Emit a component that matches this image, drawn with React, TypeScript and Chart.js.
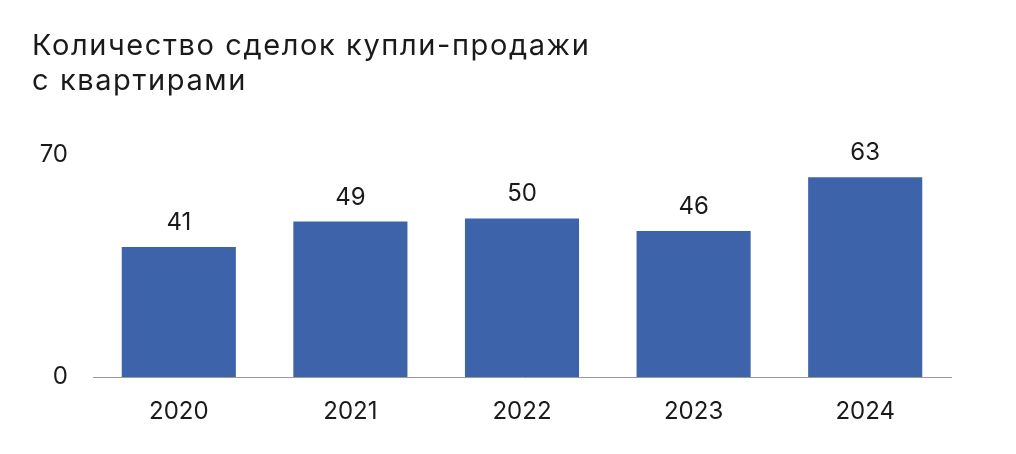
import React, { useEffect, useRef } from "react";
import { Chart, registerables } from "chart.js";

Chart.register(...registerables);

const titleLines = ["Количество сделок купли-продажи", "с квартирами"];
const categories = ["2020", "2021", "2022", "2023", "2024"];
const values = [41, 49, 50, 46, 63];
const yTicks = [0, 70];

const FONT = "Inter, 'Open Sans', sans-serif";
const TEXT = "#1a1a1a";
const BAR = "#3D64AB";

const valueLabels = {
  id: "valueLabels",
  afterDatasetsDraw(chart: any) {
    const ctx = chart.ctx;
    const meta = chart.getDatasetMeta(0);
    ctx.save();
    ctx.font = `24px ${FONT}`;
    ctx.fillStyle = TEXT;
    ctx.textAlign = "center";
    ctx.textBaseline = "alphabetic";
    meta.data.forEach((bar: any, i: number) => {
      ctx.fillText(String(values[i]), bar.x, bar.y - 17);
    });
    ctx.restore();
  },
};

export default function App() {
  const ref = useRef<HTMLCanvasElement>(null);
  useEffect(() => {
    document.body.style.margin = "0";
    const chart = new Chart(ref.current!, {
      type: "bar",
      data: {
        labels: categories,
        datasets: [
          {
            data: values,
            backgroundColor: BAR,
            barPercentage: 0.665,
            categoryPercentage: 1,
          },
        ],
      },
      options: {
        animation: false,
        responsive: false,
        layout: { padding: { left: 0, right: 65, top: 155, bottom: 0 } },
        plugins: {
          legend: { display: false },
          tooltip: { enabled: false },
          title: { display: false },
        },
        scales: {
          x: {
            grid: { display: false, drawTicks: false },
            border: { display: true, color: "#999999", width: 1 },
            ticks: { color: TEXT, font: { family: FONT, size: 24 }, padding: 20 },
            afterFit(scale: any) {
              scale.height = 77;
            },
          },
          y: {
            min: 0,
            max: 70,
            grid: { display: false, drawTicks: false },
            border: { display: false },
            afterBuildTicks(scale: any) {
              scale.ticks = yTicks.map((v) => ({ value: v }));
            },
            ticks: { color: TEXT, font: { family: FONT, size: 24 }, padding: 25 },
            afterFit(scale: any) {
              scale.width = 93;
            },
          },
        },
      },
      plugins: [valueLabels],
    });
    return () => chart.destroy();
  }, []);
  return (
    <div style={{ position: "relative", width: 1016, height: 454, background: "#fff" }}>
      <canvas ref={ref} width={1016} height={454} style={{ display: "block" }} />
      <div
        style={{
          position: "absolute",
          left: 32,
          top: 27,
          fontFamily: FONT,
          fontSize: 29,
          lineHeight: "35px",
          letterSpacing: "1.6px",
          color: TEXT,
          whiteSpace: "nowrap",
        }}
      >
        {titleLines.map((l) => (
          <div key={l}>{l}</div>
        ))}
      </div>
    </div>
  );
}
